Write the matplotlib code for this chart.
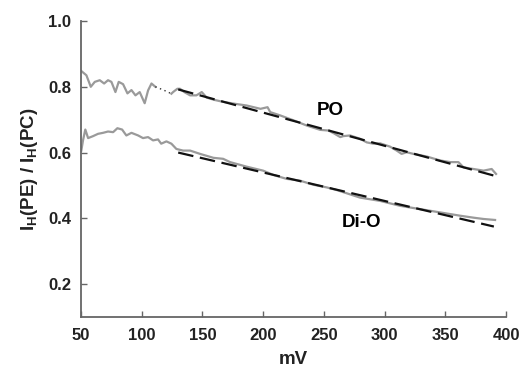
"""
I_H(PE) / I_H(PC) ratio versus voltage for PO and Di-O
"""

import matplotlib
matplotlib.use('Agg')
import matplotlib.pyplot as plt
import numpy as np

# PO measured trace, noisy part below ~110 mV
po_x1 = [50.2, 54.4, 58.0, 61.3, 65.4, 69.0, 72.2, 75.0, 78.3, 81.0, 84.6, 88.2,
         91.5, 94.8, 98.3, 102.4, 105.2, 108.0, 111.2]
po_y1 = [0.848, 0.835, 0.800, 0.815, 0.820, 0.810, 0.820, 0.815, 0.784, 0.815,
         0.808, 0.780, 0.790, 0.774, 0.784, 0.750, 0.789, 0.810, 0.800]

# PO dotted gap
po_xd = [111.2, 118.0, 124.4]
po_yd = [0.800, 0.790, 0.779]

# PO measured trace, fitted region
po_x2 = [124.4, 125.8, 129.3, 131.5, 135.0, 139.8, 145.0, 149.4, 153.5, 160.0,
         167.3, 175.5, 186.5, 197.8, 203.6, 205.8, 214.0, 225.0, 236.0, 247.0,
         253.8, 258.0, 263.5, 266.0, 271.6, 279.8, 285.3, 290.7, 296.3, 304.5,
         310.0, 314.0, 318.2, 323.7, 334.7, 345.7, 354.0, 360.8, 365.0, 373.2,
         381.5, 388.2, 391.8]
po_y2 = [0.779, 0.784, 0.794, 0.794, 0.784, 0.774, 0.774, 0.784, 0.767, 0.760,
         0.754, 0.749, 0.743, 0.733, 0.738, 0.723, 0.713, 0.698, 0.682, 0.669,
         0.667, 0.659, 0.647, 0.650, 0.652, 0.642, 0.631, 0.627, 0.628, 0.618,
         0.606, 0.596, 0.601, 0.596, 0.588, 0.576, 0.571, 0.571, 0.555, 0.550,
         0.545, 0.550, 0.535]

# Di-O measured trace
dio_x = [50.2, 51.6, 53.5, 55.8, 59.9, 64.0, 68.1, 72.2, 76.4, 79.9, 83.8, 87.3,
         91.5, 97.0, 101.0, 105.2, 109.3, 113.4, 116.0, 120.3, 124.4, 128.5,
         134.0, 139.8, 148.0, 159.0, 167.0, 172.7, 186.5, 200.0, 208.3, 219.3,
         230.0, 241.4, 252.4, 260.6, 279.8, 296.3, 312.8, 329.3, 345.7, 362.2,
         373.2, 381.5, 391.0]
dio_y = [0.606, 0.637, 0.670, 0.644, 0.650, 0.657, 0.660, 0.664, 0.662, 0.674,
         0.670, 0.652, 0.660, 0.652, 0.644, 0.647, 0.637, 0.640, 0.627, 0.634,
         0.627, 0.611, 0.606, 0.606, 0.596, 0.584, 0.581, 0.571, 0.557, 0.545,
         0.532, 0.520, 0.515, 0.502, 0.494, 0.486, 0.463, 0.453, 0.438, 0.428,
         0.418, 0.408, 0.402, 0.398, 0.395]

# linear fits (dashed)
po_fit_x = [130, 390]
po_fit_y = [0.792, 0.530]
dio_fit_x = [130, 390]
dio_fit_y = [0.600, 0.375]

plt.rcParams['font.family'] = ['Liberation Sans', 'DejaVu Sans']
plt.rcParams['font.weight'] = 'bold'
plt.rcParams['mathtext.fontset'] = 'custom'
plt.rcParams['mathtext.rm'] = 'Liberation Sans:bold'
plt.rcParams['mathtext.it'] = 'Liberation Sans:bold'
plt.rcParams['mathtext.bf'] = 'Liberation Sans:bold'

fig = plt.figure(figsize=(5.23, 3.69), dpi=100)
ax = fig.add_axes([0.155, 0.141, 0.8125, 0.802])

gray = '#9a9a9a'
ax.plot(po_x1, po_y1, color=gray, lw=1.6)
ax.plot(po_xd, po_yd, color='#333333', lw=1.0, ls=(0, (1, 2.5)))
ax.plot(po_x2, po_y2, color=gray, lw=1.6)
ax.plot(dio_x, dio_y, color=gray, lw=1.6)

ax.plot(po_fit_x, po_fit_y, color='#111111', lw=1.6, ls=(0, (7, 3)))
ax.plot(dio_fit_x, dio_fit_y, color='#111111', lw=1.6, ls=(0, (7, 3)))

ax.text(255, 0.728, 'PO', fontsize=13.5, fontweight='bold', ha='center', va='center')
ax.text(281, 0.386, 'Di-O', fontsize=13.5, fontweight='bold', ha='center', va='center')

ax.set_xlim(50, 400)
ax.set_ylim(0.1, 1.0)
ax.set_xticks(np.arange(50, 401, 50))
ax.set_yticks([0.2, 0.4, 0.6, 0.8, 1.0])
ax.set_yticklabels(['0.2', '0.4', '0.6', '0.8', '1.0'])

for s in ['top', 'right']:
    ax.spines[s].set_visible(False)
for s in ['left', 'bottom']:
    ax.spines[s].set_color('#666666')
    ax.spines[s].set_linewidth(1.3)

ax.tick_params(direction='in', length=4, width=1.0, color='#666666',
               labelsize=12, labelcolor='#222222')
ax.tick_params(axis='x', pad=8)
ax.tick_params(axis='y', pad=7)

ax.set_xlabel('mV', fontsize=13.5, fontweight='bold', color='#222222', labelpad=6)
ax.set_ylabel('I$_{\\rm H}$(PE) / I$_{\\rm H}$(PC)', fontsize=13.5,
              fontweight='bold', color='#222222', labelpad=6)

fig.savefig('out.png', dpi=100)
